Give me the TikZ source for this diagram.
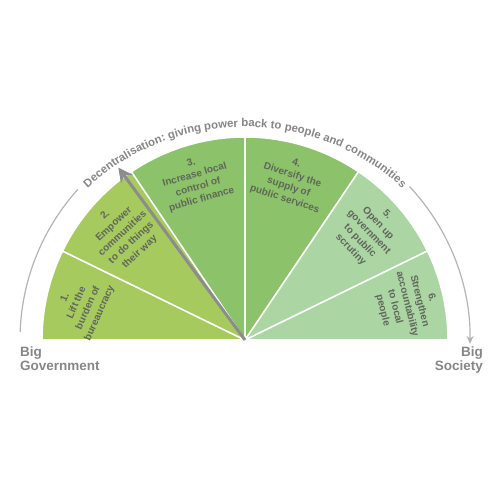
\documentclass[tikz,border=0pt]{standalone}
\usepackage{fontspec}
\setmainfont{Liberation Sans}
\usetikzlibrary{arrows.meta, decorations.text}

\definecolor{leafA}{HTML}{A6CA5E}
\definecolor{leafB}{HTML}{8CC269}
\definecolor{leafC}{HTML}{ABD6A3}
\definecolor{inkgrey}{HTML}{60665B}
\definecolor{railgrey}{HTML}{B4B4B4}
\definecolor{titlegrey}{HTML}{868686}
\definecolor{needlegrey}{HTML}{8C8C8C}
\newcommand\titlefont{\bfseries\fontsize{11.4}{12}\selectfont}

\begin{document}
\begin{tikzpicture}[x=1pt, y=1pt,
        wedge/.style={draw=white, line width=1.5pt, line join=round},
        lbl/.style={align=center, text=inkgrey, inner sep=0pt, font=\bfseries\fontsize{10}{12.6}\selectfont},
        side/.style={text=titlegrey, inner sep=0pt, font=\bfseries\fontsize{13.5}{14}\selectfont},
        rail/.style={draw=railgrey, line width=1.2pt},
        needle/.style={draw=needlegrey, line width=3pt, -{Stealth[length=14pt, width=14pt, inset=4pt]}}]
        \useasboundingbox (-245,-160) rectangle (255,340);
        \coordinate (hub) at (0,0);
        % wedges, left to right
        \path[wedge, fill=leafA] (hub) -- (154:203pt) arc[start angle=154, end angle=180, radius=203pt] -- cycle;
        \path[wedge, fill=leafA] (hub) -- (124:203pt) arc[start angle=124, end angle=154, radius=203pt] -- cycle;
        \path[wedge, fill=leafB] (hub) -- (90:203pt) arc[start angle=90, end angle=124, radius=203pt] -- cycle;
        \path[wedge, fill=leafB] (hub) -- (56:203pt) arc[start angle=56, end angle=90, radius=203pt] -- cycle;
        \path[wedge, fill=leafC] (hub) -- (26:203pt) arc[start angle=26, end angle=56, radius=203pt] -- cycle;
        \path[wedge, fill=leafC] (hub) -- (0:203pt) arc[start angle=0, end angle=26, radius=203pt] -- cycle;
        % pointer
        \coordinate (tip) at (126.3:214pt);
        \draw[needle] (hub) -- (tip);
        % labels
        \node[lbl, rotate=66] (s1) at (168:166pt) {1.\\Lift the\\burden of\\bureaucracy};
        \node[lbl, rotate=43] (s2) at (139:162pt) {2.\\Empower\\communities\\to do things\\their way};
        \node[lbl, rotate=16] (s3) at (107:166pt) {3.\\Increase local\\control of\\public finance};
        \node[lbl, rotate=-18] (s4) at (74:165pt) {4.\\Diversify the\\supply of\\public services};
        \node[lbl, rotate=-46] (s5) at (41:164pt) {5.\\Open up\\government\\to public\\scrutiny};
        \node[lbl, rotate=-76] (s6) at (12.5:166pt) {6.\\Strengthen\\accountability\\to local\\people};
        % outer rail and title
        \draw[rail] (178:225pt) arc[start angle=178, end angle=138, radius=225pt];
        \draw[rail, -{Stealth[length=8pt, width=7pt]}] (43:225pt) arc[start angle=43, end angle=-1, radius=225pt];
        \path[decorate, decoration={text along path, text align=center, text color=titlegrey,
            text={|\titlefont|Decentralisation: giving power back to people and communities}}]
            ({224*cos(136)},{213*sin(136)}) arc[start angle=136, end angle=44, x radius=224pt, y radius=213pt];
        \node[side, anchor=north west, align=left] (gov) at (-225,-7) {Big\\Government};
        \node[side, anchor=north east, align=right] (soc) at (238,-7) {Big\\Society};
\end{tikzpicture}
\end{document}
